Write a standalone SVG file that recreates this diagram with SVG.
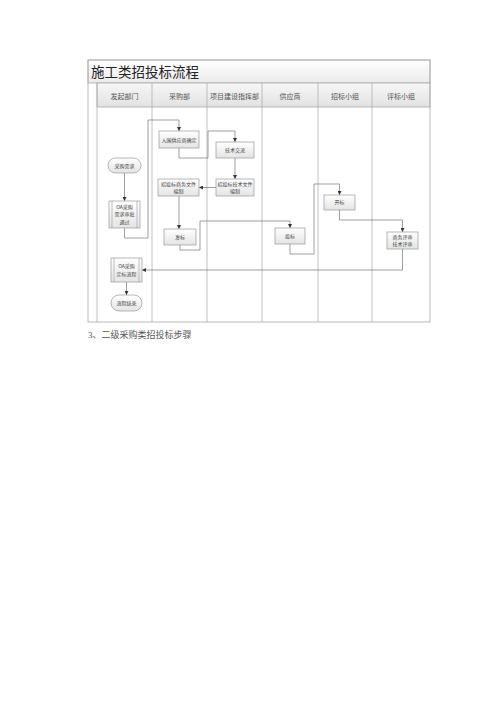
<svg xmlns="http://www.w3.org/2000/svg" width="500" height="707" viewBox="0 0 500 707">
<defs>
<linearGradient id="gTitle" x1="0" y1="0" x2="0" y2="1"><stop offset="0" stop-color="#ffffff"/><stop offset="1" stop-color="#ebebeb"/></linearGradient>
<linearGradient id="gHead" x1="0" y1="0" x2="0" y2="1"><stop offset="0" stop-color="#f7f7f7"/><stop offset="1" stop-color="#e2e2e2"/></linearGradient>
<linearGradient id="gNode" x1="0" y1="0" x2="0" y2="1"><stop offset="0" stop-color="#ffffff"/><stop offset="1" stop-color="#e4e4e4"/></linearGradient>
<marker id="arr" markerUnits="userSpaceOnUse" markerWidth="4" markerHeight="4" refX="4" refY="2" orient="auto"><path d="M0,0 L4,2 L0,4 Z" fill="#333"/></marker>
<style>
.frame{fill:none;stroke:#aaa;stroke-width:0.8}
.lane{stroke:#b0b0b0;stroke-width:0.8}
.node{fill:url(#gNode);stroke:#999;stroke-width:0.7}
.inner{stroke:#999;stroke-width:0.6}
.conn{fill:none;stroke:#777;stroke-width:0.7;marker-end:url(#arr)}
.t{font-family:"Noto Sans CJK SC","Liberation Sans",sans-serif;text-anchor:middle;fill:#444;font-size:5px}
.h{font-family:"Noto Sans CJK SC","Liberation Sans",sans-serif;text-anchor:middle;fill:#555;font-size:7px}
</style>
</defs>
<rect width="500" height="707" fill="#fff"/>
<g id="frame">
<rect x="88" y="60" width="342" height="23" fill="url(#gTitle)" stroke="#aaa" stroke-width="0.8"/>
<rect x="97" y="83" width="333" height="24" fill="url(#gHead)" stroke="#aaa" stroke-width="0.8"/>
<rect x="88" y="60" width="342" height="262" class="frame"/>
<line x1="97" y1="83" x2="97" y2="322" class="lane"/>
<line x1="152" y1="83" x2="152" y2="322" class="lane"/>
<line x1="207" y1="83" x2="207" y2="322" class="lane"/>
<line x1="262" y1="83" x2="262" y2="322" class="lane"/>
<line x1="318" y1="83" x2="318" y2="322" class="lane"/>
<line x1="372" y1="83" x2="372" y2="322" class="lane"/>
<text x="91" y="77" font-family="'Noto Sans CJK SC',sans-serif" font-size="13.5" fill="#222">施工类招投标流程</text>
<text class="h" x="124.5" y="98.5">发起部门</text>
<text class="h" x="179.5" y="98.5">采购部</text>
<text class="h" x="234.5" y="98.5">项目建设指挥部</text>
<text class="h" x="290" y="98.5">供应商</text>
<text class="h" x="345" y="98.5">招标小组</text>
<text class="h" x="401" y="98.5">评标小组</text>
</g>
<g id="connectors">
<path class="conn" d="M124.5,173 V201"/>
<path class="conn" d="M124.5,228 V238 H148 V120 H179 V131"/>
<path class="conn" d="M179,148 V158 H208 V131 H235 V142"/>
<path class="conn" d="M235,158 V179"/>
<path class="conn" d="M216,187.5 H199"/>
<path class="conn" d="M179,196 V229"/>
<path class="conn" d="M180,245 V250 H200 V221 H290 V228"/>
<path class="conn" d="M290,244 V254 H314 V184 H339.5 V195"/>
<path class="conn" d="M339.5,210 V220 H402.5 V232"/>
<path class="conn" d="M402.5,249 V270 H142"/>
<path class="conn" d="M126.5,282 V295"/>
</g>
<g id="n_caigou_xuqiu"><rect class="node" x="108" y="158" width="33" height="15" rx="7.5"/><text class="t" x="124.5" y="167.5">采购需求</text></g>
<g id="n_oa_xuqiu"><rect class="node" x="109" y="201" width="31" height="27"/><line class="inner" x1="112" y1="201" x2="112" y2="228"/><line class="inner" x1="137" y1="201" x2="137" y2="228"/><text class="t" x="124.5" y="208.5">OA采购</text><text class="t" x="124.5" y="216">需求审批</text><text class="t" x="124.5" y="223.5">通过</text></g>
<g id="n_ruwei"><rect class="node" x="159" y="131" width="40" height="17"/><text class="t" x="179" y="141.5">入围供应商确定</text></g>
<g id="n_jishu_jiaoliu"><rect class="node" x="216" y="142" width="38" height="16"/><text class="t" x="235" y="151.8">技术交流</text></g>
<g id="n_shangwu_wenjian"><rect class="node" x="158" y="179" width="41" height="17"/><text class="t" x="178.5" y="186">招投标商务文件</text><text class="t" x="178.5" y="193">编制</text></g>
<g id="n_jishu_wenjian"><rect class="node" x="216" y="179" width="38" height="17"/><text class="t" x="235" y="186">招投标技术文件</text><text class="t" x="235" y="193">编制</text></g>
<g id="n_fabiao"><rect class="node" x="164" y="229" width="32" height="16"/><text class="t" x="180" y="238.8">发标</text></g>
<g id="n_toubiao"><rect class="node" x="275" y="228" width="30" height="16"/><text class="t" x="290" y="237.8">投标</text></g>
<g id="n_kaibiao"><rect class="node" x="324" y="195" width="31" height="15"/><text class="t" x="339.5" y="204.3">开标</text></g>
<g id="n_pingshen"><rect class="node" x="387" y="232" width="31" height="17"/><text class="t" x="402.5" y="239">商务评审</text><text class="t" x="402.5" y="246">技术评审</text></g>
<g id="n_oa_dingbiao"><rect class="node" x="111" y="258" width="31" height="24"/><line class="inner" x1="114" y1="258" x2="114" y2="282"/><line class="inner" x1="139" y1="258" x2="139" y2="282"/><text class="t" x="126.5" y="268">OA采购</text><text class="t" x="126.5" y="276">定标流程</text></g>
<g id="n_jieshu"><rect class="node" x="111" y="295" width="31" height="16" rx="8"/><text class="t" x="126.5" y="304.8">流程结束</text></g>
<text x="88" y="338" font-family="'Liberation Serif','Noto Sans CJK SC',serif" font-size="9" fill="#555">3、二级采购类招投标步骤</text>
</svg>
